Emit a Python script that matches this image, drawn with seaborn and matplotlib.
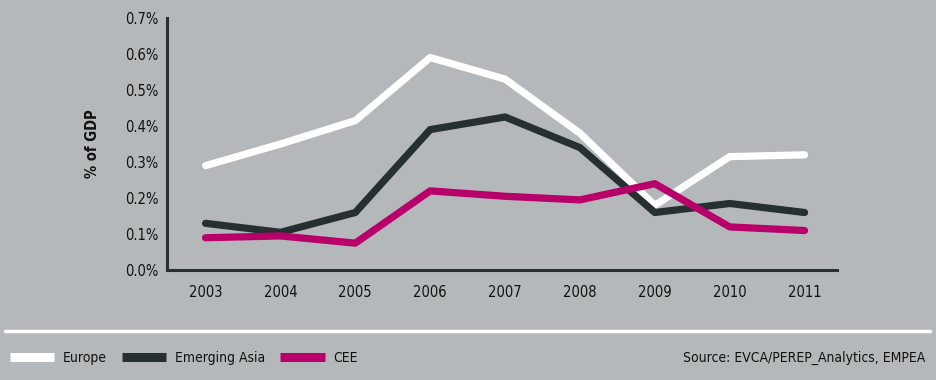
import numpy as np
import pandas as pd
import matplotlib.pyplot as plt
import seaborn as sns
from matplotlib.lines import Line2D
from matplotlib.ticker import FuncFormatter

# Data
years = [2003, 2004, 2005, 2006, 2007, 2008, 2009, 2010, 2011]
europe = [0.29, 0.35, 0.415, 0.59, 0.53, 0.38, 0.18, 0.315, 0.32]
emerging_asia = [0.13, 0.105, 0.16, 0.39, 0.425, 0.34, 0.16, 0.185, 0.16]
cee = [0.09, 0.095, 0.075, 0.22, 0.205, 0.195, 0.24, 0.12, 0.11]
series_names = ["Europe", "Emerging Asia", "CEE"]
colors = ["#ffffff", "#263033", "#b8006b"]

df = pd.DataFrame({"year": years, "Europe": europe,
                   "Emerging Asia": emerging_asia, "CEE": cee})
long_df = df.melt(id_vars="year", var_name="region", value_name="share")

bg = "#b5b8ba"
sns.set_theme(style="white")
plt.rcParams["font.family"] = ["DejaVu Sans"]
plt.rcParams["font.stretch"] = "condensed"

fig = plt.figure(figsize=(9.36, 3.8), dpi=100, facecolor=bg)
ax = fig.add_axes([0.178, 0.289, 0.716, 0.664])
ax.set_facecolor(bg)

sns.lineplot(data=long_df, x="year", y="share", hue="region",
             hue_order=series_names, palette=colors, linewidth=5.2,
             legend=False, ax=ax)

ax.set_xlim(2002.48, 2011.43)
ax.set_ylim(0, 0.7)
ax.set_xticks(years)
ax.set_yticks(np.arange(0, 0.71, 0.1))
ax.yaxis.set_major_formatter(FuncFormatter(lambda v, p: f"{v:.1f}%"))
ax.tick_params(axis="both", length=0, labelsize=10.5, colors="#111111")
ax.tick_params(axis="x", pad=11)
ax.tick_params(axis="y", pad=6)
ax.set_xlabel("")
ax.set_ylabel("% of GDP", fontsize=10.5, fontweight="bold", color="#111111", labelpad=18)

for s in ["top", "right"]:
    ax.spines[s].set_visible(False)
for s in ["left", "bottom"]:
    ax.spines[s].set_color("#263033")
    ax.spines[s].set_linewidth(2.2)

# white separator line
fig.add_artist(Line2D([5 / 936, 930 / 936], [1 - 331 / 380, 1 - 331 / 380],
                      color="white", linewidth=2.5, transform=fig.transFigure))

# legend
handles = [Line2D([], [], color=c, linewidth=6.5, solid_capstyle="butt") for c in colors]
leg = fig.legend(handles, series_names, loc="center left", bbox_to_anchor=(0.0, 1 - 358 / 380),
                 ncol=3, frameon=False, handlelength=3.2, handletextpad=0.6,
                 columnspacing=1.1, borderaxespad=0.3,
                 prop={"family": "DejaVu Sans", "stretch": "condensed", "size": 10})
for t in leg.get_texts():
    t.set_color("#111111")

fig.text(925 / 936, 1 - 358 / 380, "Source: EVCA/PEREP_Analytics, EMPEA",
         ha="right", va="center", fontsize=10, color="#111111")

fig.savefig("out.png", dpi=100, facecolor=bg)
